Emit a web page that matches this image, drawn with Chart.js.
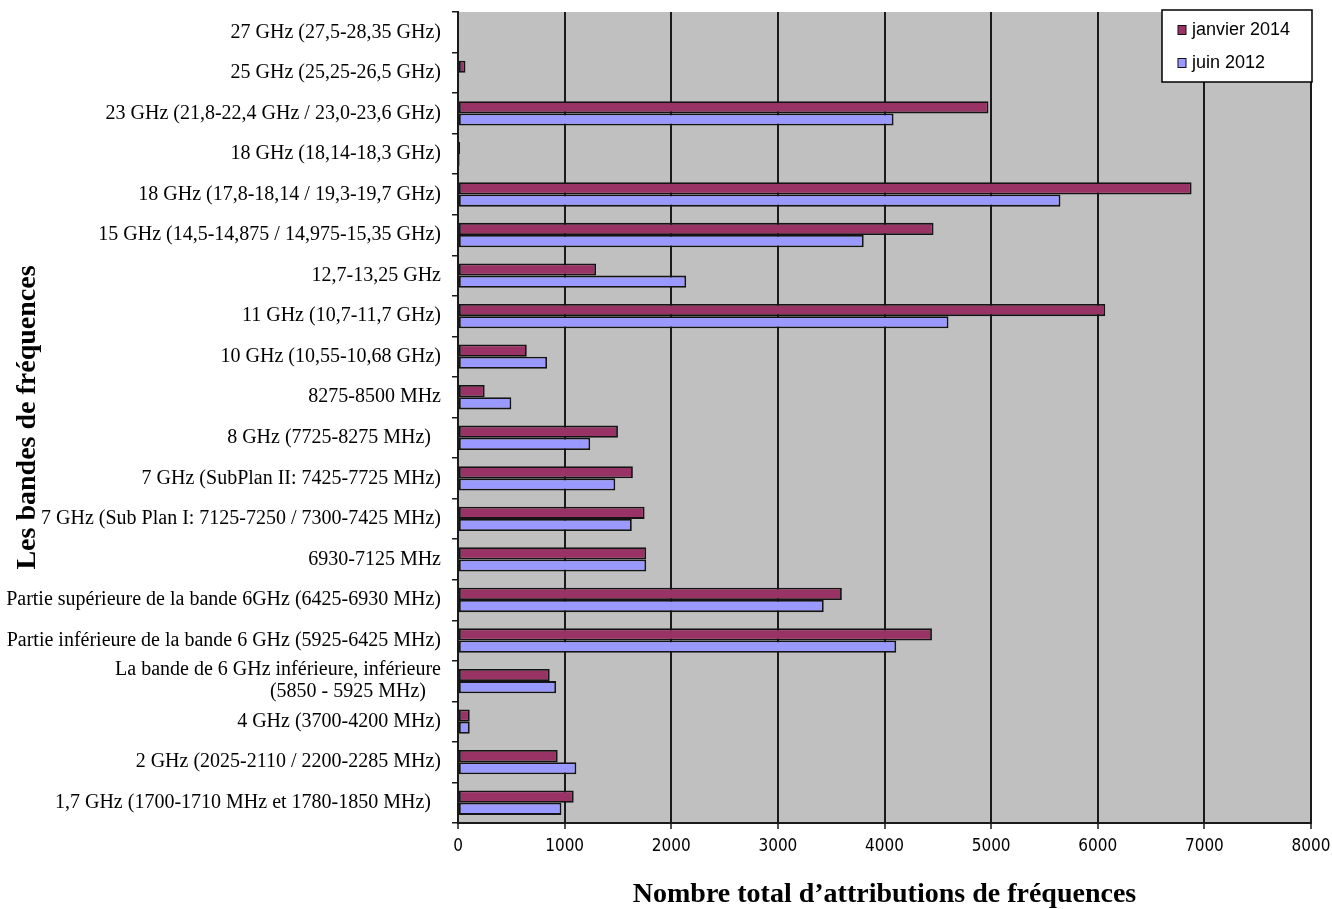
<!DOCTYPE html>
<html>
<head>
<meta charset="utf-8">
<title>Attributions de fréquences par bande</title>
<script src="https://cdn.jsdelivr.net/npm/chart.js@4.4.1/dist/chart.umd.min.js"></script>
<style>
  html, body { margin: 0; padding: 0; background: #ffffff; }
  #c { display: block; }
</style>
</head>
<body>
<canvas id="c" width="1332" height="909"></canvas>
<script>
// Frequency bands, listed from the top of the chart to the bottom
const bands = [
  "27 GHz (27,5-28,35 GHz)",
  "25 GHz (25,25-26,5 GHz)",
  "23 GHz (21,8-22,4 GHz / 23,0-23,6 GHz)",
  "18 GHz (18,14-18,3 GHz)",
  "18 GHz (17,8-18,14 / 19,3-19,7 GHz)",
  "15 GHz (14,5-14,875 / 14,975-15,35 GHz)",
  "12,7-13,25 GHz",
  "11 GHz (10,7-11,7 GHz)",
  "10 GHz (10,55-10,68 GHz)",
  "8275-8500 MHz",
  "8 GHz (7725-8275 MHz)  ",
  "7 GHz (SubPlan II: 7425-7725 MHz)",
  "7 GHz (Sub Plan I: 7125-7250 / 7300-7425 MHz)",
  "6930-7125 MHz",
  "Partie supérieure de la bande 6GHz (6425-6930 MHz)",
  "Partie inférieure de la bande 6 GHz (5925-6425 MHz)",
  ["La bande de 6 GHz inférieure, inférieure", "(5850 - 5925 MHz)   "],
  "4 GHz (3700-4200 MHz)",
  "2 GHz (2025-2110 / 2200-2285 MHz)",
  "1,7 GHz (1700-1710 MHz et 1780-1850 MHz)  "
];

// Total number of frequency assignments per band
const janvier2014 = [0, 70, 4975, 20, 6880, 4460, 1295, 6070, 645, 250, 1500, 1640, 1750, 1765, 3600, 4445, 860, 110, 935, 1085];
const juin2012    = [0, 10, 4085, 15, 5650, 3805, 2140, 4600, 835, 500, 1240, 1475, 1630, 1765, 3430, 4110, 920, 110, 1110, 970];

const seriesNames = ["janvier 2014", "juin 2012"];
const xTicks = [0, 1000, 2000, 3000, 4000, 5000, 6000, 7000, 8000];

const axisTitleX = "Nombre total d\u2019attributions de fréquences";
const axisTitleY = "Les bandes de fréquences";

// Grey plot background behind grid and bars
const plotBackground = {
  id: 'plotBackground',
  beforeDraw(chart) {
    const { ctx, chartArea: a } = chart;
    ctx.save();
    ctx.fillStyle = '#c0c0c0';
    ctx.fillRect(a.left, a.top, a.right - a.left, a.bottom - a.top);
    ctx.restore();
  }
};

// Boxed legend sitting over the top-right corner of the plot
const boxedLegend = {
  id: 'boxedLegend',
  afterDraw(chart) {
    const { ctx, chartArea: a } = chart;
    const w = 150, h = 72;
    const x = a.right + 1 - w, y = a.top - 2;
    ctx.save();
    ctx.fillStyle = '#ffffff';
    ctx.fillRect(x, y, w, h);
    ctx.strokeStyle = '#000000';
    ctx.lineWidth = 1.5;
    ctx.strokeRect(x, y, w, h);
    ctx.font = '18px "Liberation Sans", Arial, sans-serif';
    ctx.textBaseline = 'middle';
    ctx.textAlign = 'left';
    chart.data.datasets.forEach((ds, i) => {
      const cy = y + 20 + i * 33;
      ctx.fillStyle = ds.backgroundColor;
      ctx.fillRect(x + 16, cy - 4.5, 8, 9);
      ctx.strokeStyle = '#111111';
      ctx.lineWidth = 1;
      ctx.strokeRect(x + 16, cy - 4.5, 8, 9);
      ctx.fillStyle = '#000000';
      ctx.fillText(ds.label, x + 30, cy);
    });
    ctx.restore();
  }
};

new Chart(document.getElementById('c'), {
  type: 'bar',
  data: {
    labels: bands,
    datasets: [
      {
        label: seriesNames[0],
        data: janvier2014,
        backgroundColor: '#993366',
        borderColor: '#141414',
        borderWidth: 1.8,
        borderSkipped: false
      },
      {
        label: seriesNames[1],
        data: juin2012,
        backgroundColor: '#9999ff',
        borderColor: '#141414',
        borderWidth: 1.8,
        borderSkipped: false
      }
    ]
  },
  options: {
    indexAxis: 'y',
    responsive: false,
    animation: false,
    devicePixelRatio: 1,
    categoryPercentage: 0.6,
    barPercentage: 1.0,
    layout: { padding: { top: 12, right: 21, bottom: 0, left: 0 } },
    plugins: {
      legend: { display: false },
      tooltip: { enabled: false }
    },
    scales: {
      x: {
        type: 'linear',
        position: 'bottom',
        min: 0,
        max: 8000,
        afterBuildTicks(scale) {
          scale.ticks = xTicks.map(v => ({ value: v }));
        },
        afterFit(scale) {
          scale.height = 86;
          scale.paddingLeft = 0;
          scale.paddingRight = 0;
        },
        grid: {
          color: '#1a1a1a',
          lineWidth: 2,
          drawTicks: true,
          tickLength: 6,
          tickColor: '#1a1a1a',
          tickWidth: 1.5
        },
        border: { display: true, color: '#1a1a1a', width: 2 },
        ticks: {
          padding: 7,
          color: '#000000',
          font: { family: '"Liberation Sans Narrow", "DejaVu Sans Condensed", "Liberation Sans", sans-serif', size: 17 },
          maxRotation: 0,
          autoSkip: false,
          callback: (v) => String(v)
        },
        title: {
          display: true,
          text: axisTitleX,
          color: '#000000',
          font: { family: '"Liberation Serif", "Times New Roman", serif', size: 28, weight: 'bold', lineHeight: 1.0 },
          padding: { top: 0, bottom: 0 }
        }
      },
      y: {
        type: 'category',
        position: 'left',
        afterFit(scale) {
          scale.width = 458;
          scale.paddingTop = 0;
          scale.paddingBottom = 0;
        },
        grid: {
          offset: true,
          drawOnChartArea: false,
          drawTicks: true,
          tickLength: 6,
          color: '#1a1a1a',
          lineWidth: 1.5
        },
        border: { display: true, color: '#1a1a1a', width: 2 },
        ticks: {
          padding: 11,
          color: '#000000',
          autoSkip: false,
          font: { family: '"Liberation Serif", "Times New Roman", serif', size: 20, lineHeight: 1.1 }
        },
        title: {
          display: true,
          text: axisTitleY,
          color: '#000000',
          font: { family: '"Liberation Serif", "Times New Roman", serif', size: 28, weight: 'bold', lineHeight: 1.2 },
          padding: { top: 11, bottom: 0 }
        }
      }
    }
  },
  plugins: [plotBackground, boxedLegend]
});
</script>
</body>
</html>
